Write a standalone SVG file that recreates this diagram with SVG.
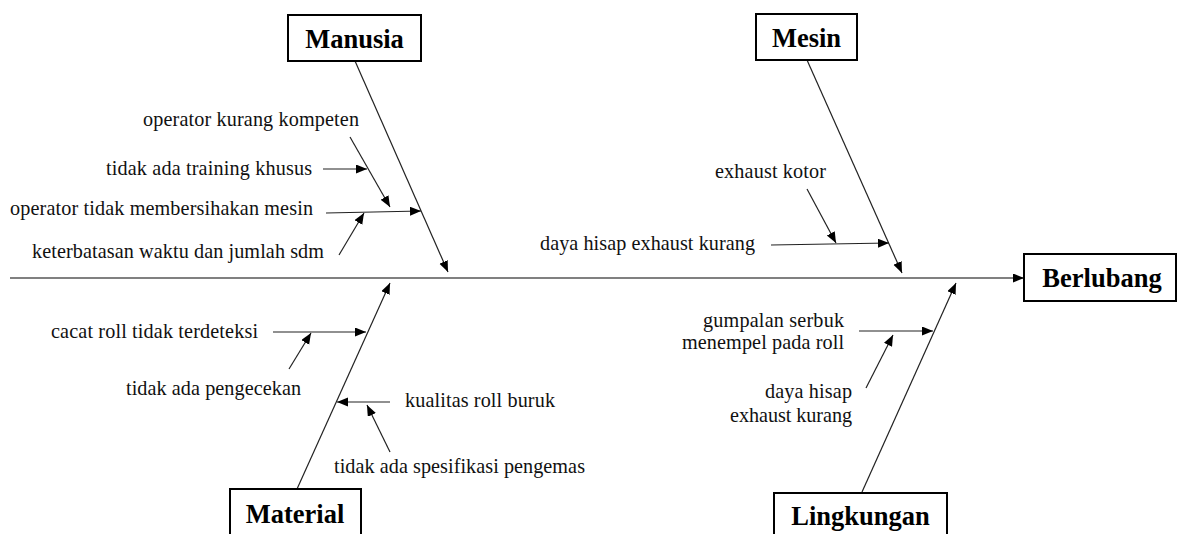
<svg xmlns="http://www.w3.org/2000/svg" width="1177" height="534" viewBox="0 0 1177 534">
  <style>
    .box { fill: #ffffff; stroke: #000000; stroke-width: 2; }
    .title { font-family: 'Liberation Serif', Tinos, 'Times New Roman', Times, serif; font-size: 26.5px; font-weight: bold; fill: #000000; text-anchor: middle; }
    .cause { font-family: 'Liberation Serif', Tinos, 'Times New Roman', Times, serif; font-size: 20.2px; fill: #111111; }
    .end { text-anchor: end; }
    .bone { stroke: #222222; stroke-width: 1.2; fill: none; marker-end: url(#arrow); }
    .spine { stroke: #808080; stroke-width: 2; fill: none; marker-end: url(#arrow); }
  </style>
  <defs>
    <marker id="arrow" markerUnits="userSpaceOnUse" markerWidth="12" markerHeight="10" refX="11" refY="4.5" orient="auto">
      <path d="M0,0 L11,4.5 L0,9 Z" fill="#000000"/>
    </marker>
  </defs>
  <rect width="1177" height="534" fill="#ffffff"/>

  <g id="connectors">
    <!-- main spine into the effect -->
    <line class="spine" x1="10" y1="278" x2="1024" y2="278"/>
    <!-- category bones -->
    <line class="bone" x1="355" y1="61" x2="448" y2="272"/>
    <line class="bone" x1="807" y1="60" x2="902" y2="273"/>
    <line class="bone" x1="297" y1="489" x2="390" y2="283"/>
    <line class="bone" x1="862" y1="492" x2="956" y2="283"/>
    <!-- Manusia causes -->
    <line class="bone" x1="350" y1="137" x2="390" y2="207"/>
    <line class="bone" x1="323" y1="169" x2="367" y2="169"/>
    <line class="bone" x1="326" y1="213" x2="421" y2="211"/>
    <line class="bone" x1="339" y1="255" x2="364" y2="213"/>
    <!-- Mesin causes -->
    <line class="bone" x1="807" y1="189" x2="836" y2="243"/>
    <line class="bone" x1="771" y1="245" x2="889" y2="243"/>
    <!-- Material causes -->
    <line class="bone" x1="273" y1="332" x2="366" y2="332"/>
    <line class="bone" x1="289" y1="369" x2="311" y2="333"/>
    <line class="bone" x1="390" y1="402" x2="337" y2="402"/>
    <line class="bone" x1="390" y1="452" x2="367" y2="405"/>
    <!-- Lingkungan causes -->
    <line class="bone" x1="859" y1="331" x2="933" y2="331"/>
    <line class="bone" x1="866" y1="388" x2="893" y2="335"/>
  </g>

  <g id="node-manusia">
    <rect class="box" x="288" y="15" width="133" height="46"/>
    <text class="title" x="354.5" y="48">Manusia</text>
  </g>
  <g id="node-mesin">
    <rect class="box" x="756" y="14" width="101" height="46"/>
    <text class="title" x="806.5" y="47">Mesin</text>
  </g>
  <g id="node-berlubang">
    <rect class="box" x="1024" y="254" width="152" height="47"/>
    <text class="title" x="1102" y="287">Berlubang</text>
  </g>
  <g id="node-material">
    <rect class="box" x="230" y="489" width="131" height="60"/>
    <text class="title" x="295" y="523">Material</text>
  </g>
  <g id="node-lingkungan">
    <rect class="box" x="774" y="493" width="173" height="60"/>
    <text class="title" x="860.5" y="525">Lingkungan</text>
  </g>

  <g id="causes-manusia">
    <text class="cause" x="143" y="126" textLength="216">operator kurang kompeten</text>
    <text class="cause" x="106" y="175" textLength="206">tidak ada training khusus</text>
    <text class="cause" x="10" y="215" textLength="303">operator tidak membersihakan mesin</text>
    <text class="cause" x="32" y="258" textLength="292">keterbatasan waktu dan jumlah sdm</text>
  </g>
  <g id="causes-mesin">
    <text class="cause" x="715" y="178" textLength="111">exhaust kotor</text>
    <text class="cause" x="540" y="250" textLength="215">daya hisap exhaust kurang</text>
  </g>
  <g id="causes-material">
    <text class="cause" x="51" y="338" textLength="207">cacat roll tidak terdeteksi</text>
    <text class="cause" x="126" y="395" textLength="175">tidak ada pengecekan</text>
    <text class="cause" x="405" y="407" textLength="150">kualitas roll buruk</text>
    <text class="cause" x="334" y="473" textLength="251">tidak ada spesifikasi pengemas</text>
  </g>
  <g id="causes-lingkungan">
    <text class="cause end" x="844" y="327" textLength="141">gumpalan serbuk</text>
    <text class="cause end" x="844" y="349" textLength="162">menempel pada roll</text>
    <text class="cause end" x="852" y="398" textLength="87">daya hisap</text>
    <text class="cause end" x="852" y="422" textLength="122">exhaust kurang</text>
  </g>
</svg>
